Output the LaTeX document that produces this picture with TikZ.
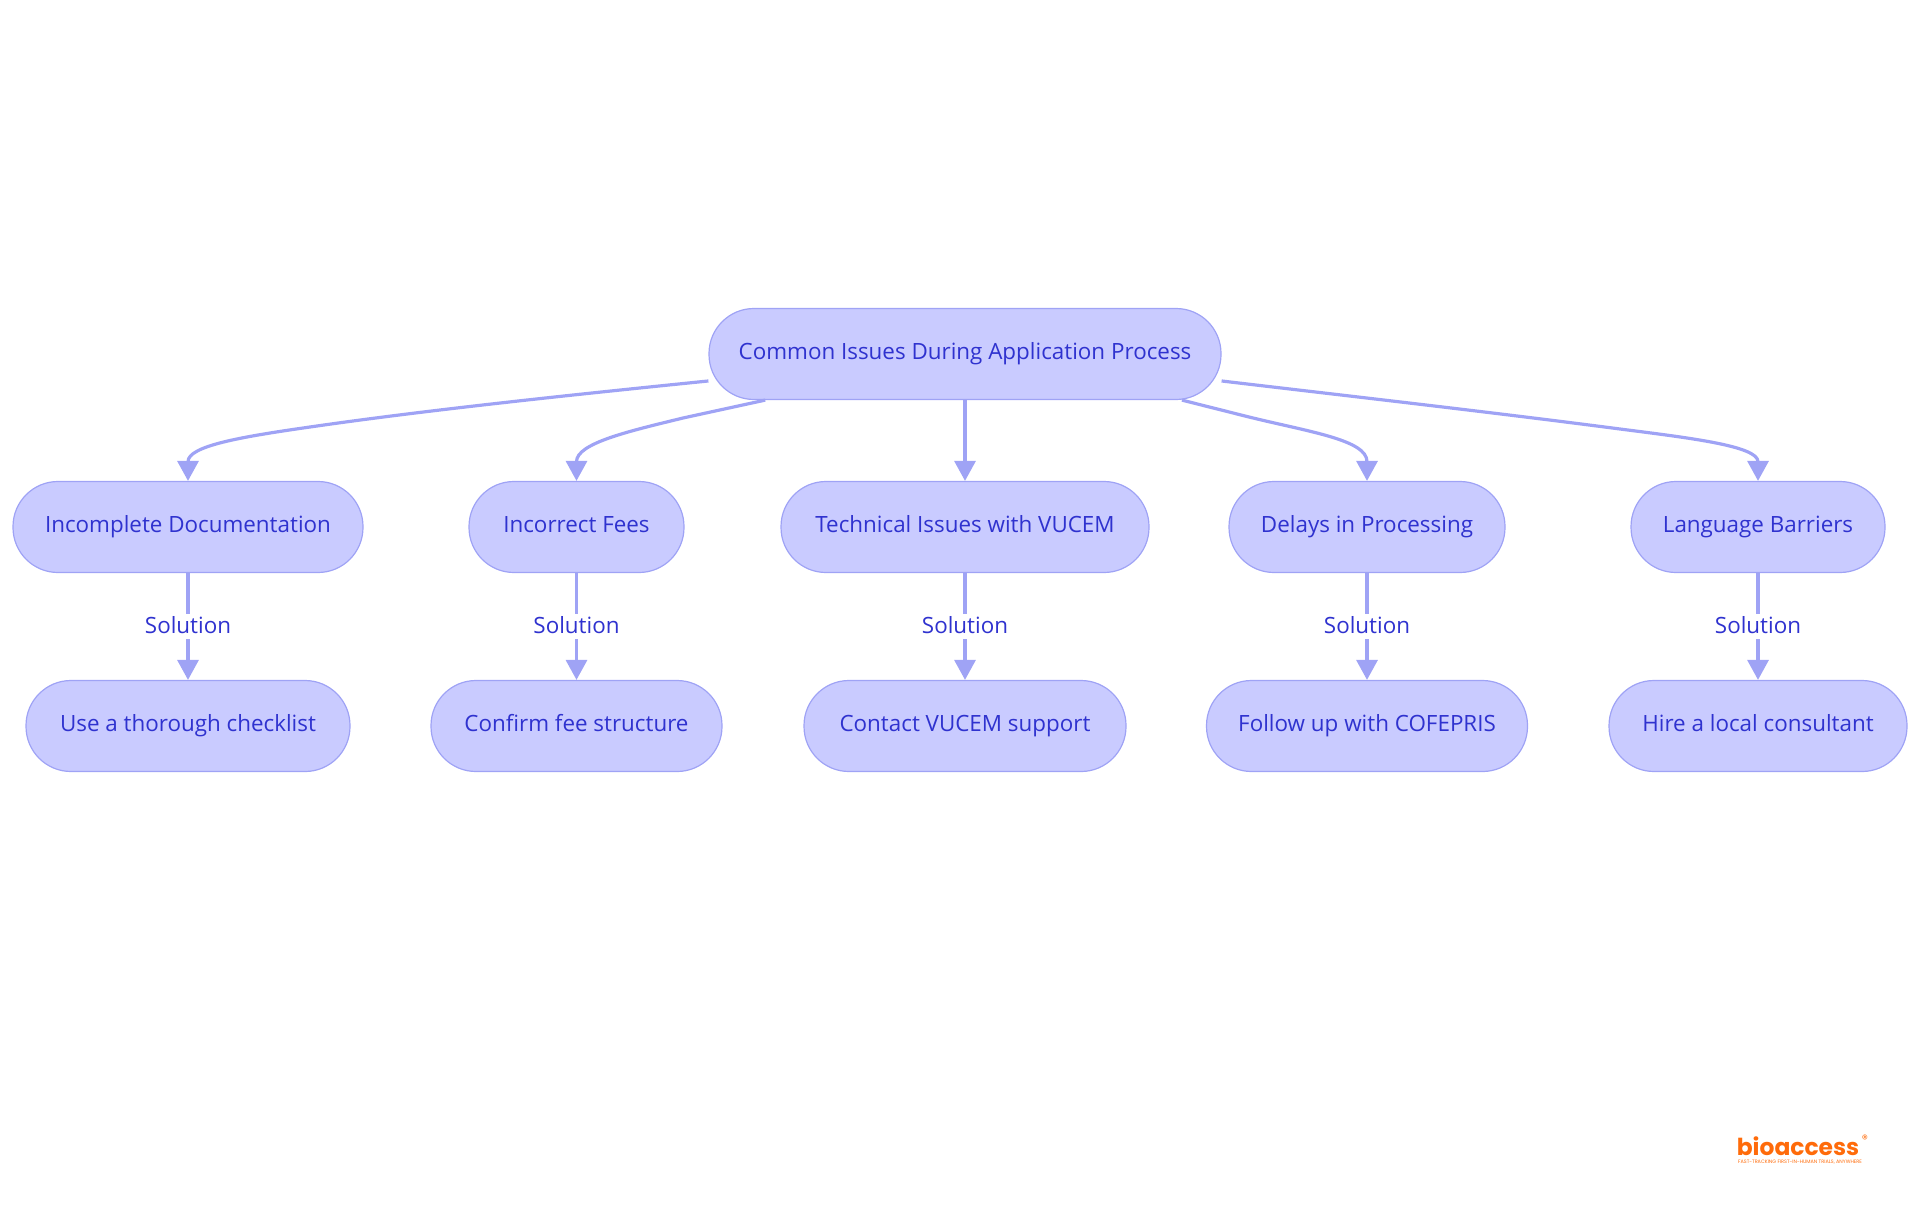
\documentclass[tikz,border=0pt]{standalone}
\usepackage{fontspec}
\setmainfont{Open Sans}
\newfontfamily\logofont{Poppins}
\usetikzlibrary{arrows.meta}
\definecolor{boxfill}{HTML}{C9CBFF}
\definecolor{boxline}{HTML}{9FA3F5}
\definecolor{boxtext}{HTML}{2F32CF}
\definecolor{logoorange}{HTML}{FF6B0A}

\begin{document}
\begin{tikzpicture}
	[x=0.5pt,y=-0.5pt,every node/.style={font=\fontsize{11.2}{13}\selectfont,text=boxtext}]
	\tikzset{box/.style={draw=boxline,fill=boxfill,line width=0.6pt,rounded corners=22.5pt,minimum height=45.5pt,inner sep=0pt,text height=8.2pt,text depth=2.4pt}}
	\tikzset{edges/.style={draw=boxline,line width=1.6pt,-{Triangle[length=10pt,width=10.5pt]}}}
	\tikzset{sol/.style={fill=white,inner xsep=1pt,inner ysep=1.5pt,text height=8.2pt,text depth=1pt}}
	\useasboundingbox (0,0) rectangle (1920,1215);

	\node[box,minimum width=256pt] (root) at (965,354) {Common Issues During Application Process};

	\node[box,minimum width=175pt] (a1) at (188,527) {Incomplete Documentation};
	\node[box,minimum width=107.5pt] (a2) at (576.5,527) {Incorrect Fees};
	\node[box,minimum width=184pt] (a3) at (965,527) {Technical Issues with VUCEM};
	\node[box,minimum width=138pt] (a4) at (1367,527) {Delays in Processing};
	\node[box,minimum width=127pt] (a5) at (1758,527) {Language Barriers};

	\node[box,minimum width=162pt] (b1) at (188,726) {Use a thorough checklist};
	\node[box,minimum width=145.5pt] (b2) at (576.5,726) {Confirm fee structure};
	\node[box,minimum width=161pt] (b3) at (965,726) {Contact VUCEM support};
	\node[box,minimum width=160.5pt] (b4) at (1367,726) {Follow up with COFEPRIS};
	\node[box,minimum width=149pt] (b5) at (1758,726) {Hire a local consultant};

	\draw[edges] (root.186.2) .. controls (560,396) and (420,411) .. (310,427) .. controls (240,437) and (188,446) .. (a1.north);
	\draw[edges] (root.193.2) -- (683,418) .. controls (630,431) and (576.5,443) .. (a2.north);
	\draw[edges] (root.south) -- (a3.north);
	\draw[edges] (root.-12.9) -- (1249,417) .. controls (1310,432) and (1367,440) .. (a4.north);
	\draw[edges] (root.-6.2) .. controls (1340,395) and (1490,412) .. (1620,429) .. controls (1690,438) and (1758,446) .. (a5.north);

	\foreach \i in {1,...,5}
		\draw[edges] (a\i) -- node[sol] (s\i) {Solution} (b\i);

	\node[font=\logofont\bfseries\fontsize{11.7}{13}\selectfont,text=logoorange,inner sep=0pt,anchor=base] (logo) at (1798,1155) {bioaccess};
	\node[font=\logofont\fontsize{2.45}{3}\selectfont,text=logoorange,inner sep=0pt] (tag) at (1800,1162) {FAST-TRACKING FIRST-IN-HUMAN TRIALS, ANYWHERE};
	\node[font=\logofont\fontsize{6}{7}\selectfont,text=logoorange,inner sep=0pt] (reg) at (1865,1139) {®};
\end{tikzpicture}
\end{document}
